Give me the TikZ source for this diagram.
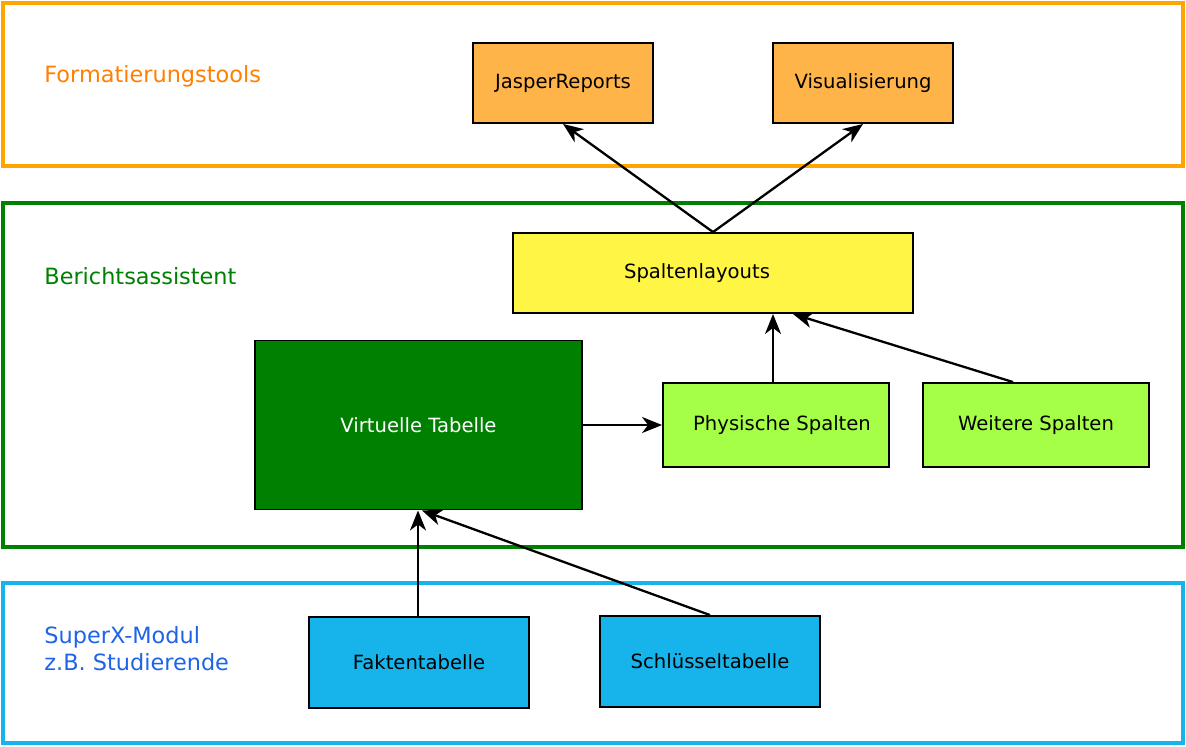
\documentclass[tikz,border=0pt]{standalone}
\usepackage{fontspec}
\setmainfont{DejaVu Sans}
\usetikzlibrary{arrows.meta}

\definecolor{frameorange}{RGB}{255,165,0}
\definecolor{textorange}{RGB}{255,127,0}
\definecolor{framegreen}{RGB}{0,128,0}
\definecolor{frameblue}{RGB}{23,180,236}
\definecolor{textblue}{RGB}{30,100,230}
\definecolor{fillorange}{RGB}{255,180,74}
\definecolor{fillyellow}{RGB}{255,245,69}
\definecolor{filllight}{RGB}{165,255,71}

\tikzset{
    box/.style={draw, line width=0.95pt, font=\fontsize{9.8}{11.5}\selectfont},
    frame/.style={line width=1.6pt},
    layer/.style={anchor=west, align=left, inner sep=0pt, font=\fontsize{11.2}{13.5}\selectfont},
    link/.style={-{Stealth[length=10pt, width=8pt, inset=3pt]}, line width=1.15pt}
}

\begin{document}
\begin{tikzpicture}[x=0.5pt, y=-0.5pt]
            \useasboundingbox (0, 0) rectangle (1186, 746);
            \draw[frame, frameorange] (3, 3) rectangle (1183, 166);
            \draw[frame, framegreen] (3, 203) rectangle (1183, 547);
            \draw[frame, frameblue] (3, 583) rectangle (1183, 743);
            \node[layer, textorange] (fmt) at (44, 76) {Formatierungstools};
            \node[layer, framegreen] (assist) at (44, 276) {Berichtsassistent};
            \node[layer, textblue] (modul) at (44, 649) {SuperX-Modul\\z.B. Studierende};
            \node[box, fill=fillorange, minimum width=90pt, minimum height=40pt] (jasper) at (563, 83) {JasperReports};
            \node[box, fill=fillorange, minimum width=90pt, minimum height=40pt] (visual) at (863, 83) {Visualisierung};
            \node[box, fill=fillyellow, minimum width=200pt, minimum height=40pt,
                  label={[font=\fontsize{9.8}{11.5}\selectfont, xshift=-8pt]center:Spaltenlayouts}] (layouts) at (713, 273) {};
            \node[box, fill=framegreen, text=white, minimum width=163.5pt, minimum height=84.5pt] (virtual) at (418.5, 425) {Virtuelle Tabelle};
            \node[box, fill=filllight, minimum width=113pt, minimum height=42pt,
                  label={[font=\fontsize{9.8}{11.5}\selectfont, xshift=3pt]center:Physische Spalten}] (physical) at (776, 425) {};
            \node[box, fill=filllight, minimum width=113pt, minimum height=42pt] (further) at (1036, 425) {Weitere Spalten};
            \node[box, fill=frameblue, minimum width=110pt, minimum height=45.5pt] (facts) at (419, 662.5) {Faktentabelle};
            \node[box, fill=frameblue, minimum width=110pt, minimum height=45.5pt] (keys) at (710, 661.5) {Schlüsseltabelle};
            \draw[link] (layouts.north) -- (jasper.south);
            \draw[link] (layouts.north) -- (visual.south);
            \draw[link] (physical.north -| 773, 0) -- (layouts.south -| 773, 0);
            \draw[link] (further.north -| 1013, 0) -- (layouts.south -| 793, 0);
            \draw[link] (virtual.east) -- (physical.west);
            \draw[link] (facts.north -| 418, 0) -- (virtual.south -| 418, 0);
            \draw[link] (keys.north) -- (virtual.south -| 422, 0);
        \end{tikzpicture}
\end{document}
